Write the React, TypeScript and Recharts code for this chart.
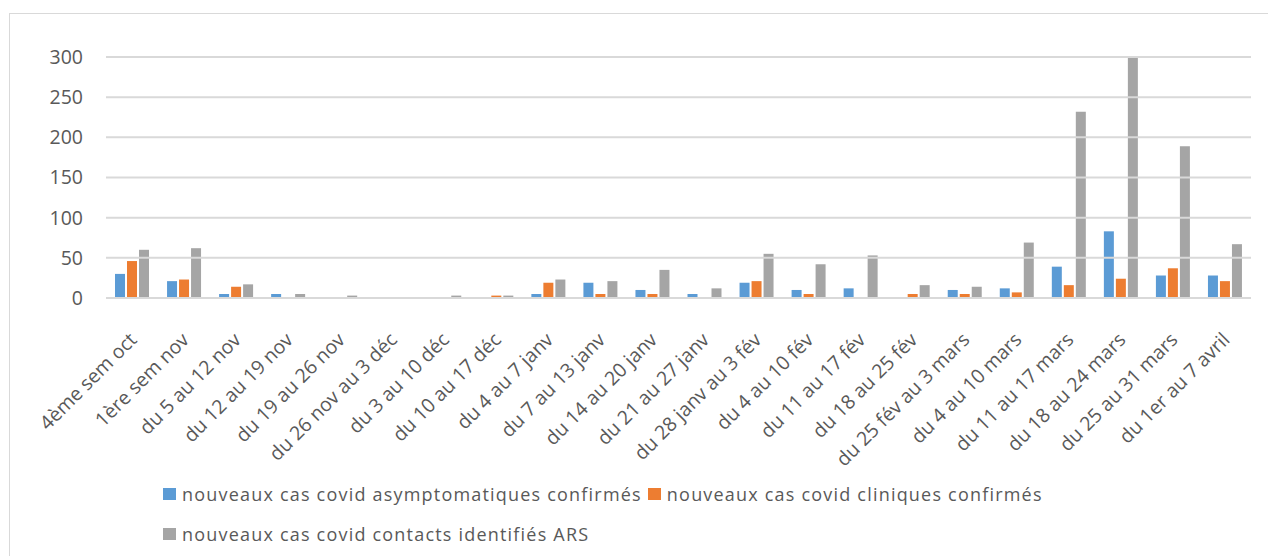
import { BarChart, Bar, XAxis, YAxis, ReferenceLine } from "recharts"

const weeks = [
  "4ème sem oct",
  "1ère sem nov",
  "du 5 au 12 nov",
  "du 12 au 19 nov",
  "du 19 au 26 nov",
  "du 26 nov au 3 déc",
  "du 3 au 10 déc",
  "du 10 au 17 déc",
  "du 4 au 7 janv",
  "du 7 au 13 janv",
  "du 14 au 20 janv",
  "du 21 au 27 janv",
  "du 28 janv au 3 fév",
  "du 4 au 10 fév",
  "du 11 au 17 fév",
  "du 18 au 25 fév",
  "du 25 fév au 3 mars",
  "du 4 au 10 mars",
  "du 11 au 17 mars",
  "du 18 au 24 mars",
  "du 25 au 31 mars",
  "du 1er au 7 avril",
]

const asymptomatiques = [30, 21, 5, 5, 1, 0, 1, 1, 5, 19, 10, 5, 19, 10, 12, 0, 10, 12, 39, 83, 28, 28]
const cliniques = [46, 23, 14, 1, 1, 1, 0, 3, 19, 5, 5, 1, 21, 5, 0, 5, 5, 7, 16, 24, 37, 21]
const contacts = [60, 62, 17, 5, 3, 1, 3, 3, 23, 21, 35, 12, 55, 42, 53, 16, 14, 69, 232, 303, 189, 67]

const yTicks = [0, 50, 100, 150, 200, 250, 300]

const series = [
  { key: "asym", name: "nouveaux cas covid asymptomatiques confirmés", color: "#5b9bd5" },
  { key: "clin", name: "nouveaux cas covid cliniques confirmés", color: "#ed7d31" },
  { key: "cont", name: "nouveaux cas covid contacts identifiés ARS", color: "#a5a5a5" },
]

const data = weeks.map((w, i) => ({
  name: w,
  asym: asymptomatiques[i],
  clin: cliniques[i],
  cont: contacts[i],
}))

const FONT = "'Open Sans', sans-serif"
const TEXT = "#595959"
const GRID = "#d9d9d9"

const WeekTick = (props: any) => {
  const { x, y, payload } = props
  const ax = x + 6
  const ay = y + 35
  return (
    <text
      x={ax}
      y={ay}
      textAnchor="end"
      fill={TEXT}
      fontSize={19.5}
      fontFamily={FONT}
      transform={`rotate(-45, ${ax}, ${ay})`}
    >
      {payload.value}
    </text>
  )
}

const App = () => {
  return (
    <div
      style={{
        position: "fixed",
        left: 9,
        top: 13,
        width: 1300,
        height: 600,
        border: "1px solid #d9d9d9",
        background: "#fff",
      }}
    >
      <BarChart
        width={1259}
        height={543}
        data={data}
        barSize={10}
        barGap={2}
        margin={{ top: 43, right: 18, bottom: 0, left: 0 }}
      >
        {yTicks.slice(1).map((t) => (
          <ReferenceLine key={t} y={t} stroke={GRID} strokeWidth={2} />
        ))}
        <XAxis
          dataKey="name"
          interval={0}
          height={259}
          tickLine={false}
          axisLine={{ stroke: GRID, strokeWidth: 2 }}
          tick={<WeekTick />}
        />
        <YAxis
          width={96}
          domain={[0, 300]}
          allowDataOverflow
          ticks={yTicks}
          tickLine={false}
          axisLine={false}
          tickSize={0}
          tickMargin={23}
          tick={{ fill: TEXT, fontSize: 19.5, fontFamily: FONT }}
        />
        {series.map((s) => (
          <Bar key={s.key} dataKey={s.key} name={s.name} fill={s.color} isAnimationActive={false} />
        ))}
      </BarChart>
      <div style={{ position: "absolute", left: 153, top: 468, fontFamily: FONT, fontSize: 18, color: TEXT, letterSpacing: 1.2 }}>
        <div style={{ display: "flex", alignItems: "center", height: 24 }}>
          {series.slice(0, 2).map((s) => (
            <span key={s.key} style={{ display: "flex", alignItems: "center", marginRight: 6 }}>
              <span style={{ width: 13, height: 12, background: s.color, marginRight: 6, display: "inline-block" }} />
              {s.name}
            </span>
          ))}
        </div>
        <div style={{ display: "flex", alignItems: "center", height: 24, marginTop: 16 }}>
          {series.slice(2).map((s) => (
            <span key={s.key} style={{ display: "flex", alignItems: "center" }}>
              <span style={{ width: 13, height: 12, background: s.color, marginRight: 6, display: "inline-block" }} />
              {s.name}
            </span>
          ))}
        </div>
      </div>
    </div>
  )
}

export default App
